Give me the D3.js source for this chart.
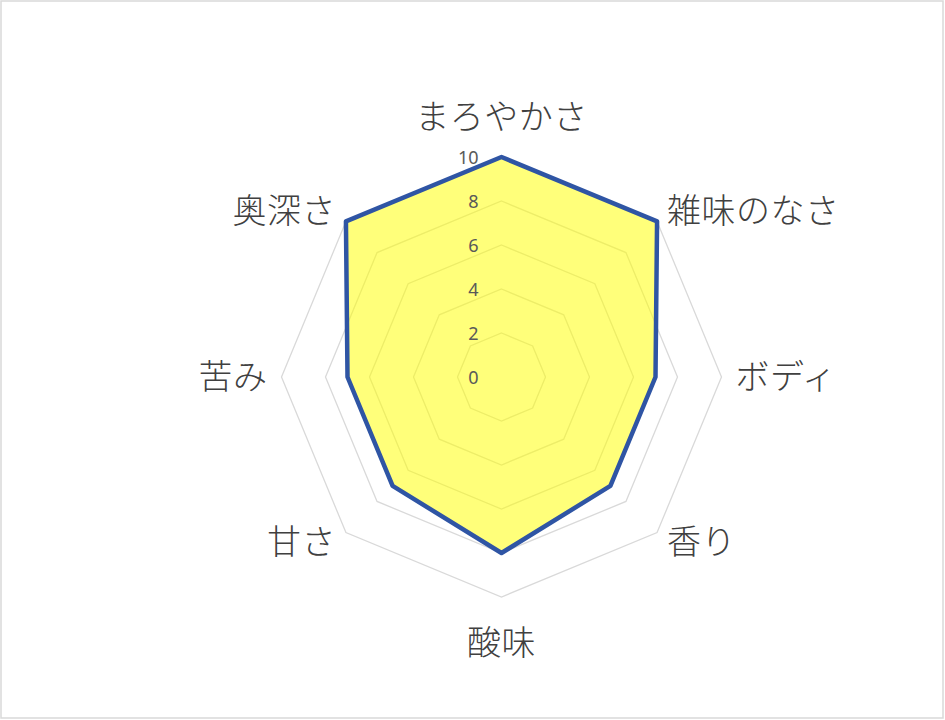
<!DOCTYPE html>
<html lang="ja">
<head>
<meta charset="utf-8">
<title>レーダーチャート</title>
<script src="https://cdn.jsdelivr.net/npm/d3@7"></script>
<style>
  body { margin: 0; background: #fff; }
  svg { display: block; }
</style>
</head>
<body>
<script>
// axes, clockwise from the top
var categories = ["まろやかさ", "雑味のなさ", "ボディ", "香り", "酸味", "甘さ", "苦み", "奥深さ"];
var values = [10, 10, 7, 7, 8, 7, 7, 10];
var tickValues = [0, 2, 4, 6, 8, 10];

var W = 945, H = 720;
var cx = 501.5, cy = 377, R = 220;

var svg = d3.select("body").append("svg")
    .attr("width", W)
    .attr("height", H);

// chart border
svg.append("rect")
    .attr("x", 1).attr("y", 1)
    .attr("width", W - 3).attr("height", H - 3)
    .attr("fill", "#fff")
    .attr("stroke", "#d9d9d9")
    .attr("stroke-width", 1.5);

var rScale = d3.scaleLinear().domain([0, 10]).range([0, R]);
// one step per category, first axis pointing up
var angle = d3.scalePoint()
    .domain(categories)
    .range([0, 2 * Math.PI * (categories.length - 1) / categories.length]);

var g = svg.append("g").attr("transform", "translate(" + cx + "," + cy + ")");

function pt(cat, v) {
  var a = angle(cat);
  return [rScale(v) * Math.sin(a), -rScale(v) * Math.cos(a)];
}

// grid rings (no ring at 0)
g.selectAll("polygon.grid")
  .data(tickValues.filter(function(t) { return t > 0; }))
  .enter()
  .append("polygon")
    .attr("class", "grid")
    .attr("points", function(t) {
      return categories.map(function(c) { return pt(c, t).join(","); }).join(" ");
    })
    .attr("fill", "none")
    .attr("stroke", "#d9d9d9")
    .attr("stroke-width", 1.3);

// data area
var line = d3.line().curve(d3.curveLinearClosed);
g.append("path")
    .datum(categories.map(function(c, i) { return pt(c, values[i]); }))
    .attr("d", line)
    .attr("fill", "#ffff00")
    .attr("fill-opacity", 0.52)
    .attr("stroke", "#2f55a4")
    .attr("stroke-width", 4.5)
    .attr("stroke-linejoin", "round");

// tick labels
g.selectAll("text.tick")
  .data(tickValues)
  .enter()
  .append("text")
    .attr("class", "tick")
    .attr("x", -23)
    .attr("y", function(t) { return -rScale(t); })
    .attr("text-anchor", "end")
    .attr("dominant-baseline", "central")
    .attr("font-family", "'Noto Sans', 'Open Sans', sans-serif")
    .attr("font-size", "18px")
    .attr("fill", "#595959")
    .text(function(t) { return t; });

// category labels
g.selectAll("text.cat")
  .data(categories)
  .enter()
  .append("text")
    .attr("class", "cat")
    .each(function(c) {
      var a = angle(c);
      var dx = Math.sin(a), dy = -Math.cos(a);
      var p = [(R + 14) * dx, (R + 14) * dy];
      var anchor = Math.abs(dx) < 0.01 ? "middle" : (dx > 0 ? "start" : "end");
      var shift = Math.abs(dx) < 0.01 ? dy * 29 : -3;
      d3.select(this)
        .attr("x", p[0])
        .attr("y", p[1] + shift)
        .attr("text-anchor", anchor);
    })
    .attr("dominant-baseline", "central")
    .attr("font-family", "'Noto Sans CJK JP', 'Noto Sans', sans-serif")
    .attr("font-weight", 300)
    .attr("font-size", "34px")
    .attr("letter-spacing", "0.5px")
    .attr("fill", "#404040")
    .text(function(c) { return c; });
</script>
</body>
</html>
